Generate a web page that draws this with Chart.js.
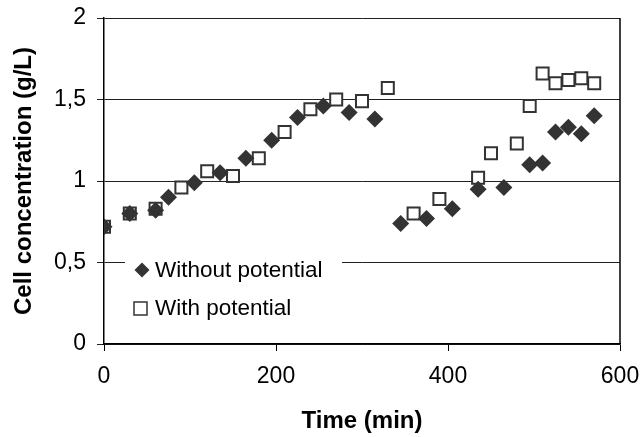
<!DOCTYPE html>
<html>
<head>
<meta charset="utf-8">
<script src="https://cdn.jsdelivr.net/npm/chart.js@4/dist/chart.umd.min.js"></script>
<style>
  html, body { margin: 0; padding: 0; background: #fff; }
  #chart { display: block; }
</style>
</head>
<body>
<canvas id="chart" width="642" height="437"></canvas>
<script>
// Cell concentration over time, with and without applied potential
const timeWithout = [0, 30, 60, 75, 105, 135, 165, 195, 225, 255, 285, 315,
  345, 375, 405, 435, 465, 495, 510, 525, 540, 555, 570];
const concWithout = [0.72, 0.80, 0.82, 0.90, 0.99, 1.05, 1.14, 1.25, 1.39, 1.46, 1.42, 1.38,
  0.74, 0.77, 0.83, 0.95, 0.96, 1.10, 1.11, 1.30, 1.33, 1.29, 1.40];

const timeWith = [0, 30, 60, 90, 120, 150, 180, 210, 240, 270, 300, 330,
  360, 390, 435, 450, 480, 495, 510, 525, 540, 555, 570];
const concWith = [0.72, 0.80, 0.83, 0.96, 1.06, 1.03, 1.14, 1.30, 1.44, 1.50, 1.49, 1.57,
  0.80, 0.89, 1.02, 1.17, 1.23, 1.46, 1.66, 1.60, 1.62, 1.63, 1.60];

const seriesLabels = ["Without potential", "With potential"];
const xTitle = "Time (min)";
const yTitle = "Cell concentration (g/L)";

const FONT = "'Liberation Sans', Arial, sans-serif";
const INK = "#333333";

const toPoints = (xs, ys) => xs.map((x, i) => ({ x: x, y: ys[i] }));

// Legend sits inside the plot, on a white box over the gridlines
const insideLegend = {
  id: "insideLegend",
  afterDatasetsDraw(chart) {
    const ctx = chart.ctx;
    const h = Chart.helpers;
    ctx.save();
    ctx.fillStyle = "#fff";
    ctx.fillRect(125, 252, 217, 72);

    ctx.fillStyle = INK;
    h.drawPoint(ctx, { pointStyle: "rectRot", radius: 7.5, borderWidth: 0 }, 142, 270);

    ctx.strokeStyle = INK;
    ctx.lineWidth = 1.5;
    ctx.fillStyle = "#fff";
    ctx.fillRect(134, 302, 13, 13);
    ctx.strokeRect(134, 302, 13, 13);

    ctx.fillStyle = "#000";
    ctx.font = "22.5px " + FONT;
    ctx.textBaseline = "middle";
    ctx.textAlign = "left";
    ctx.fillText(chart.data.datasets[0].label, 155, 271);
    ctx.fillText(chart.data.datasets[1].label, 155, 309);

    // right edge of the plot frame
    const a = chart.chartArea;
    ctx.strokeStyle = "#000";
    ctx.lineWidth = 1.5;
    ctx.beginPath();
    ctx.moveTo(a.right, a.top);
    ctx.lineTo(a.right, a.bottom);
    ctx.stroke();
    ctx.restore();
  }
};

new Chart(document.getElementById("chart"), {
  type: "scatter",
  data: {
    datasets: [
      {
        label: seriesLabels[0],
        data: toPoints(timeWithout, concWithout),
        pointStyle: "rectRot",
        pointRadius: 8.5,
        pointHoverRadius: 8.5,
        backgroundColor: INK,
        borderColor: INK,
        borderWidth: 0
      },
      {
        label: seriesLabels[1],
        data: toPoints(timeWith, concWith),
        pointStyle: "rect",
        pointRadius: 8.5,
        pointHoverRadius: 8.5,
        backgroundColor: "#fff",
        borderColor: INK,
        borderWidth: 2
      }
    ]
  },
  options: {
    responsive: false,
    animation: false,
    layout: { padding: { top: 18, right: 22, left: 0, bottom: 0 } },
    plugins: {
      legend: { display: false },
      tooltip: { enabled: false }
    },
    scales: {
      x: {
        type: "linear",
        min: 0,
        max: 600,
        afterFit: (s) => {
          s.height = 93;
          s.paddingLeft = 0;
          s.paddingRight = 0;
        },
        ticks: {
          stepSize: 200,
          padding: 12,
          color: "#000",
          font: { family: FONT, size: 23 }
        },
        grid: {
          drawOnChartArea: false,
          drawTicks: true,
          tickLength: 7,
          color: "#000",
          lineWidth: 1
        },
        border: { display: true, color: "#000", width: 1.5 },
        title: {
          display: true,
          text: xTitle,
          color: "#000",
          font: { family: FONT, size: 24, weight: "bold" },
          padding: { top: 0, bottom: 1 }
        }
      },
      y: {
        type: "linear",
        min: 0,
        max: 2,
        afterFit: (s) => {
          s.width = 104;
          s.paddingTop = 0;
          s.paddingBottom = 0;
        },
        ticks: {
          stepSize: 0.5,
          padding: 11,
          color: "#000",
          font: { family: FONT, size: 23 },
          callback: (v) => v.toString().replace(".", ",")
        },
        grid: {
          drawTicks: true,
          tickLength: 7,
          color: "#222",
          lineWidth: 1
        },
        border: { display: true, color: "#000", width: 1.5 },
        title: {
          display: true,
          text: yTitle,
          color: "#000",
          font: { family: FONT, size: 24, weight: "bold" },
          padding: { top: 10, bottom: 0 }
        }
      }
    }
  },
  plugins: [insideLegend]
});
</script>
</body>
</html>
